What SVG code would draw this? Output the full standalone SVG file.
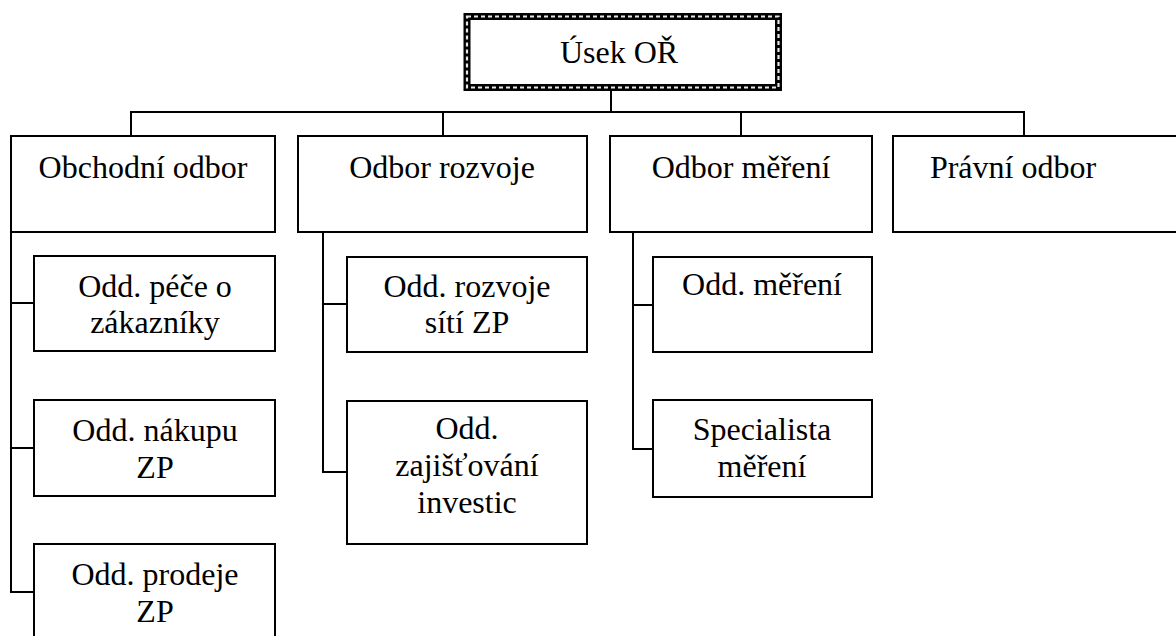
<svg xmlns="http://www.w3.org/2000/svg" width="1176" height="636" viewBox="0 0 1176 636">
  <style>
    .box { fill: #fff; stroke: #000; stroke-width: 2; }
    .conn { fill: none; stroke: #000; stroke-width: 2; }
    text { font-family: "Liberation Serif", "Times New Roman", serif; font-size: 32px; fill: #000; text-anchor: middle; }
  </style>
  <rect width="1176" height="636" fill="#fff"/>

  <!-- connectors -->
  <g id="connectors" class="conn">
    <path d="M611 91 V112"/>
    <path d="M131 136 V112 H1024 V136"/>
    <path d="M443 112 V136"/>
    <path d="M741 112 V136"/>
    <!-- Obchodní odbor branch -->
    <path d="M11 232 V592 H34"/>
    <path d="M11 303 H34"/>
    <path d="M11 448 H34"/>
    <!-- Odbor rozvoje branch -->
    <path d="M323 232 V472 H347"/>
    <path d="M323 304 H347"/>
    <!-- Odbor měření branch -->
    <path d="M633 232 V449 H653"/>
    <path d="M633 305 H653"/>
  </g>

  <!-- root, with a checkered frame -->
  <g id="usek-or">
    <rect x="467" y="16.5" width="311.5" height="71" fill="#fff" stroke="#000" stroke-width="7"/>
    <rect x="467" y="16.5" width="311.5" height="71" fill="none" stroke="#e8e8e8" stroke-width="2.2" stroke-dasharray="4 3"/>
    <text x="619" y="63">Úsek OŘ</text>
  </g>

  <!-- departments -->
  <g id="obchodni-odbor">
    <rect class="box" x="11" y="136" width="264" height="96"/>
    <text x="143" y="178">Obchodní odbor</text>
  </g>
  <g id="odbor-rozvoje">
    <rect class="box" x="298" y="136" width="289" height="96"/>
    <text x="442" y="178">Odbor rozvoje</text>
  </g>
  <g id="odbor-mereni">
    <rect class="box" x="610" y="136" width="262" height="96"/>
    <text x="741" y="178">Odbor měření</text>
  </g>
  <g id="pravni-odbor">
    <rect class="box" x="893" y="136" width="300" height="96"/>
    <text x="1013" y="178">Právní odbor</text>
  </g>

  <!-- Obchodní odbor sections -->
  <g id="odd-pece">
    <rect class="box" x="34" y="256" width="241" height="95"/>
    <text x="155" y="297">Odd. péče o</text>
    <text x="155" y="333">zákazníky</text>
  </g>
  <g id="odd-nakupu">
    <rect class="box" x="34" y="400" width="241" height="96"/>
    <text x="155" y="441">Odd. nákupu</text>
    <text x="155" y="478">ZP</text>
  </g>
  <g id="odd-prodeje">
    <rect class="box" x="34" y="544" width="241" height="96"/>
    <text x="155" y="585">Odd. prodeje</text>
    <text x="155" y="622">ZP</text>
  </g>

  <!-- Odbor rozvoje sections -->
  <g id="odd-rozvoje-siti">
    <rect class="box" x="347" y="257" width="240" height="95"/>
    <text x="467" y="297">Odd. rozvoje</text>
    <text x="467" y="333">sítí ZP</text>
  </g>
  <g id="odd-zajistovani">
    <rect class="box" x="347" y="401" width="240" height="143"/>
    <text x="467" y="439">Odd.</text>
    <text x="467" y="476">zajišťování</text>
    <text x="467" y="513">investic</text>
  </g>

  <!-- Odbor měření sections -->
  <g id="odd-mereni">
    <rect class="box" x="653" y="257" width="219" height="95"/>
    <text x="762" y="295">Odd. měření</text>
  </g>
  <g id="specialista-mereni">
    <rect class="box" x="653" y="400" width="219" height="97"/>
    <text x="762" y="440">Specialista</text>
    <text x="762" y="477">měření</text>
  </g>
</svg>
